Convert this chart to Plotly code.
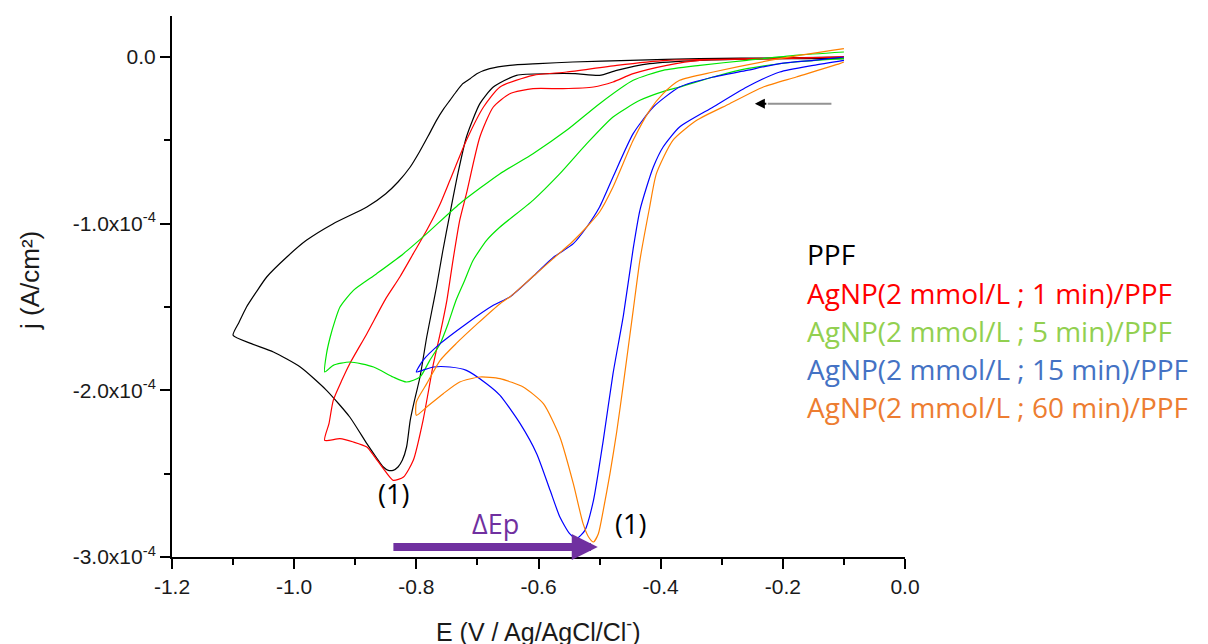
import numpy as np
import plotly.graph_objects as go

J_SCALE = 1e-4  # current density values below are in units of 1e-4 A/cm2

# ---------------- data (E in V, j in 1e-4 A/cm2), ordered along each scan ----------------
ppf_E = [-0.10, -0.20, -0.336, -0.418, -0.472, -0.50, -0.54, -0.581, -0.636, -0.674, -0.696, -0.718,
         -0.732, -0.745, -0.757, -0.767, -0.775, -0.783, -0.794, -0.803, -0.810, -0.816, -0.823, -0.830,
         -0.838, -0.846, -0.854, -0.866, -0.881, -0.909, -0.947, -0.990, -1.034, -1.070, -1.10, -1.090,
         -1.078, -1.062, -1.045, -1.012, -0.980, -0.936, -0.881, -0.850, -0.830, -0.810, -0.795, -0.780,
         -0.767, -0.755, -0.745, -0.735, -0.724, -0.712, -0.701, -0.680, -0.647, -0.60, -0.544, -0.45,
         -0.336, -0.20, -0.10]
ppf_j = [-0.01, -0.01, -0.02, -0.04, -0.08, -0.11, -0.10, -0.10, -0.11, -0.18, -0.28, -0.48,
         -0.70, -0.94, -1.17, -1.38, -1.53, -1.68, -1.92, -2.06, -2.18, -2.34, -2.42, -2.46,
         -2.48, -2.48, -2.46, -2.40, -2.32, -2.16, -2.00, -1.86, -1.77, -1.72, -1.67, -1.59,
         -1.50, -1.41, -1.32, -1.20, -1.10, -1.00, -0.90, -0.82, -0.75, -0.66, -0.57, -0.47,
         -0.38, -0.31, -0.26, -0.21, -0.16, -0.13, -0.10, -0.07, -0.05, -0.04, -0.03, -0.02,
         -0.01, -0.005, 0.0]

ag1_E = [-0.10, -0.20, -0.336, -0.390, -0.445, -0.478, -0.510, -0.56, -0.609, -0.647, -0.674, -0.696,
         -0.718, -0.729, -0.740, -0.750, -0.761, -0.772, -0.789, -0.805, -0.821, -0.838, -0.854, -0.870,
         -0.881, -0.903, -0.925, -0.950, -0.943, -0.936, -0.922, -0.909, -0.881, -0.850, -0.827, -0.805,
         -0.783, -0.762, -0.745, -0.718, -0.690, -0.663, -0.609, -0.554, -0.472, -0.390, -0.25, -0.10]
ag1_j = [0.0, -0.01, -0.02, -0.05, -0.10, -0.15, -0.18, -0.19, -0.19, -0.22, -0.30, -0.48,
         -0.82, -0.98, -1.22, -1.46, -1.66, -1.84, -2.18, -2.42, -2.52, -2.54, -2.47, -2.39,
         -2.34, -2.31, -2.29, -2.30, -2.20, -2.06, -1.94, -1.84, -1.66, -1.45, -1.32, -1.18,
         -1.04, -0.89, -0.74, -0.50, -0.30, -0.18, -0.11, -0.09, -0.05, -0.02, -0.01, 0.0]

ag5_E = [-0.10, -0.18, -0.259, -0.314, -0.369, -0.390, -0.434, -0.478, -0.521, -0.565, -0.609, -0.663,
         -0.685, -0.707, -0.722, -0.735, -0.748, -0.761, -0.778, -0.794, -0.816, -0.838, -0.870, -0.909,
         -0.936, -0.950, -0.947, -0.941, -0.933, -0.925, -0.903, -0.865, -0.821, -0.783, -0.729, -0.663,
         -0.609, -0.554, -0.500, -0.445, -0.396, -0.336, -0.259, -0.18, -0.10]
ag5_j = [-0.01, -0.03, -0.07, -0.12, -0.18, -0.20, -0.26, -0.36, -0.52, -0.70, -0.86, -1.02,
         -1.10, -1.22, -1.35, -1.46, -1.60, -1.72, -1.82, -1.92, -1.95, -1.92, -1.86, -1.83,
         -1.85, -1.89, -1.78, -1.68, -1.58, -1.50, -1.40, -1.30, -1.18, -1.06, -0.88, -0.70,
         -0.58, -0.44, -0.28, -0.14, -0.08, -0.05, -0.02, 0.01, 0.03]

ag15_E = [-0.10, -0.150, -0.205, -0.259, -0.314, -0.369, -0.396, -0.412, -0.423, -0.434, -0.445, -0.461,
          -0.478, -0.494, -0.510, -0.524, -0.538, -0.549, -0.565, -0.581, -0.603, -0.630, -0.663, -0.685,
          -0.718, -0.745, -0.772, -0.790, -0.80, -0.789, -0.761, -0.718, -0.674, -0.647, -0.610, -0.575,
          -0.543, -0.521, -0.500, -0.478, -0.445, -0.412, -0.369, -0.314, -0.259, -0.205, -0.15, -0.10]
ag15_j = [-0.02, -0.05, -0.09, -0.18, -0.30, -0.42, -0.54, -0.66, -0.78, -0.92, -1.15, -1.55,
          -1.90, -2.30, -2.66, -2.84, -2.89, -2.86, -2.76, -2.60, -2.38, -2.20, -2.03, -1.96,
          -1.88, -1.86, -1.86, -1.88, -1.89, -1.82, -1.72, -1.60, -1.49, -1.44, -1.32, -1.20,
          -1.12, -1.02, -0.90, -0.72, -0.46, -0.30, -0.18, -0.12, -0.08, -0.04, -0.02, 0.0]

ag60_E = [-0.10, -0.107, -0.178, -0.232, -0.287, -0.341, -0.380, -0.407, -0.418, -0.434, -0.445, -0.461,
          -0.472, -0.483, -0.494, -0.502, -0.510, -0.518, -0.527, -0.543, -0.565, -0.592, -0.625, -0.663,
          -0.696, -0.729, -0.756, -0.783, -0.80, -0.80, -0.783, -0.761, -0.735, -0.700, -0.663, -0.647,
          -0.610, -0.576, -0.545, -0.521, -0.500, -0.478, -0.445, -0.418, -0.396, -0.369, -0.314, -0.205,
          -0.10]
ag60_j = [-0.03, -0.04, -0.12, -0.18, -0.28, -0.38, -0.50, -0.70, -0.90, -1.22, -1.52, -1.96,
          -2.25, -2.50, -2.72, -2.86, -2.91, -2.88, -2.80, -2.56, -2.28, -2.08, -1.98, -1.93,
          -1.92, -1.95, -2.02, -2.10, -2.15, -2.07, -1.96, -1.82, -1.72, -1.60, -1.48, -1.44,
          -1.32, -1.21, -1.11, -1.02, -0.93, -0.78, -0.50, -0.32, -0.22, -0.14, -0.09, -0.01,
          0.05]

series_names = ["PPF",
                "AgNP(2 mmol/L ; 1 min)/PPF",
                "AgNP(2 mmol/L ; 5 min)/PPF",
                "AgNP(2 mmol/L ; 15 min)/PPF",
                "AgNP(2 mmol/L ; 60 min)/PPF"]
series_E = [ppf_E, ag1_E, ag5_E, ag15_E, ag60_E]
series_j = [ppf_j, ag1_j, ag5_j, ag15_j, ag60_j]
line_colors = ["#000000", "#FF0000", "#00E600", "#0000FF", "#FF8000"]
label_colors = ["#000000", "#FF0000", "#92D050", "#4472C4", "#ED7D31"]

y_tickvals = [-3e-4, -2e-4, -1e-4, 0.0]
y_ticktext = ["-3.0x10<sup>-4</sup>", "-2.0x10<sup>-4</sup>", "-1.0x10<sup>-4</sup>", "0.0"]
x_tickvals = [-1.2, -1.0, -0.8, -0.6, -0.4, -0.2, 0.0]
x_ticktext = ["-1.2", "-1.0", "-0.8", "-0.6", "-0.4", "-0.2", "0.0"]

# peak labels / ΔEp arrow (data coordinates)
peak1_pos = (-0.838, -2.62)
peak2_pos = (-0.450, -2.80)
dEp_label_pos = (-0.671, -2.80)
dEp_tail = (-0.840, -2.94)
dEp_tip = (-0.503, -2.94)
scan_tail = (-0.118, -0.28)
scan_head_start = (-0.2246, -0.28)
scan_tip = (-0.2458, -0.28)

# ---------------- figure ----------------
W, H = 1208, 644
OFF = 8  # page body margin
L, R, T, B = 172 - OFF, 905 - OFF, 16 - OFF, 557 - OFF
PW, PH = R - L, B - T

def px_to_paper(px, py):
    # px, py: window pixel positions
    return (px - OFF - L) / PW, (B - (py - OFF)) / PH

fig = go.Figure()
for name, E, j, c in zip(series_names, series_E, series_j, line_colors):
    fig.add_trace(go.Scatter(x=E, y=np.array(j) * J_SCALE, mode="lines", name=name,
                             line=dict(color=c, width=1.2, shape="spline", smoothing=0.6),
                             showlegend=False))

tick_font = dict(family="Liberation Sans, Arial", size=21, color="#1a1a1a")
fig.update_layout(
    width=W, height=H, margin=dict(l=L, r=W - R, t=T, b=H - B),
    paper_bgcolor="white", plot_bgcolor="white",
    xaxis=dict(range=[-1.2, 0.0], tickmode="array", tickvals=x_tickvals, ticktext=x_ticktext,
               showline=True, linecolor="black", linewidth=2, ticks="outside", ticklen=10,
               tickwidth=2, tickcolor="black", showgrid=False, zeroline=False, tickfont=tick_font,
               minor=dict(tick0=-1.2, dtick=0.1, ticks="outside", ticklen=6, tickwidth=2,
                          tickcolor="black", showgrid=False)),
    yaxis=dict(range=[-3.0e-4, 0.246e-4], tickmode="array", tickvals=y_tickvals, ticktext=y_ticktext,
               showline=True, linecolor="black", linewidth=2, ticks="outside", ticklen=10,
               tickwidth=2, tickcolor="black", showgrid=False, zeroline=False, tickfont=tick_font,
               minor=dict(tick0=0, dtick=0.5e-4, ticks="outside", ticklen=6, tickwidth=2,
                          tickcolor="black", showgrid=False)),
)

ann = []
# axis titles
xt = px_to_paper(538, 630)
ann.append(dict(text="E (V / Ag/AgCl/Cl<sup>-</sup>)", xref="paper", yref="paper", x=0.5, y=xt[1],
                xanchor="center", yanchor="middle", showarrow=False,
                font=dict(family="Liberation Sans, Arial", size=25, color="#1a1a1a")))
yt = px_to_paper(30, 281)
ann.append(dict(text="j (A/cm²)", xref="paper", yref="paper", x=yt[0], y=yt[1], textangle=-90,
                xanchor="center", yanchor="middle", showarrow=False,
                font=dict(family="Liberation Sans, Arial", size=26, color="#1a1a1a")))

# legend-like coloured labels
legend_y = [254, 293, 331, 369, 407]
for name, c, ly in zip(series_names, label_colors, legend_y):
    p = px_to_paper(805, ly)
    ann.append(dict(text=name, xref="paper", yref="paper", x=p[0], y=p[1], xanchor="left",
                    yanchor="middle", showarrow=False,
                    font=dict(family="Open Sans", size=28, color=c)))

lbl_font = dict(family="Open Sans", size=27, color="black")
ann.append(dict(text="(1)", x=peak1_pos[0], y=peak1_pos[1] * J_SCALE, showarrow=False, font=lbl_font))
ann.append(dict(text="(1)", x=peak2_pos[0], y=peak2_pos[1] * J_SCALE, showarrow=False, font=lbl_font))
ann.append(dict(text="ΔEp", x=dEp_label_pos[0], y=dEp_label_pos[1] * J_SCALE, showarrow=False,
                font=dict(family="Open Sans", size=27, color="#7030A0")))
# ΔEp arrow
ann.append(dict(text="", x=dEp_tip[0], y=dEp_tip[1] * J_SCALE, ax=dEp_tail[0], ay=dEp_tail[1] * J_SCALE,
                axref="x", ayref="y", showarrow=True, arrowhead=2, arrowsize=0.65, arrowwidth=8,
                arrowcolor="#7030A0", standoff=0))
# scan direction arrow
ann.append(dict(text="", x=scan_head_start[0], y=scan_head_start[1] * J_SCALE, ax=scan_tail[0],
                ay=scan_tail[1] * J_SCALE, axref="x", ayref="y", showarrow=True, arrowhead=0,
                arrowwidth=2, arrowcolor="#939393"))
ann.append(dict(text="", x=scan_tip[0], y=scan_tip[1] * J_SCALE, ax=scan_head_start[0],
                ay=scan_head_start[1] * J_SCALE, axref="x", ayref="y", showarrow=True, arrowhead=2,
                arrowsize=1.0, arrowwidth=2, arrowcolor="black", standoff=0))
fig.update_layout(annotations=ann)

fig.write_html("out.html")
